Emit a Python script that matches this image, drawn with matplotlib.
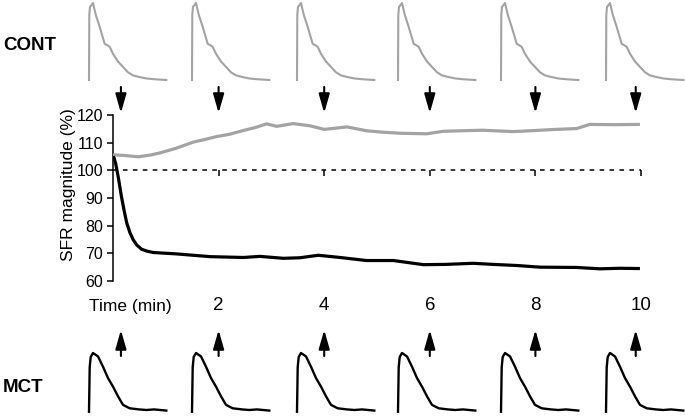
import matplotlib
matplotlib.use("Agg")
import matplotlib.pyplot as plt

plt.rcParams['font.family'] = ['Liberation Sans', 'DejaVu Sans']

# ---------------- data ----------------
cont_t = [0.0, 0.2, 0.48, 0.7, 0.89, 1.2, 1.52, 1.75, 1.96, 2.2, 2.47, 2.7, 2.91, 3.1,
          3.41, 3.73, 4.0, 4.2, 4.43, 4.8, 5.1, 5.44, 5.94, 6.25, 6.6, 7.0, 7.58, 8.0,
          8.28, 8.78, 9.03, 9.5, 9.98]
cont_v = [105.6, 105.4, 104.9, 105.5, 106.3, 108.0, 110.2, 111.2, 112.2, 113.0, 114.4,
          115.5, 116.8, 115.9, 116.9, 116.1, 114.8, 115.2, 115.7, 114.3, 113.8, 113.4,
          113.2, 114.1, 114.3, 114.5, 114.0, 114.4, 114.7, 115.1, 116.6, 116.5, 116.6]

mct_t = [0.0, 0.02, 0.05, 0.1, 0.16, 0.21, 0.26, 0.32, 0.38, 0.45, 0.54, 0.64, 0.76, 1.2,
         1.84, 2.47, 2.78, 3.23, 3.54, 3.89, 4.3, 4.8, 5.31, 5.88, 6.3, 6.82, 7.2, 7.65,
         8.09, 8.78, 9.22, 9.6, 9.98]
mct_v = [105.0, 104.5, 102.5, 97.5, 90.5, 85.5, 81.0, 77.5, 75.0, 73.0, 71.5, 70.8, 70.3,
         69.8, 68.8, 68.5, 68.9, 68.2, 68.4, 69.3, 68.5, 67.4, 67.4, 65.9, 66.0, 66.4,
         66.0, 65.6, 65.0, 64.9, 64.4, 64.6, 64.5]

baseline = 100
x_ticks = [2, 4, 6, 8, 10]
x_tick_labels = ['2', '4', '6', '8', '10']
y_ticks = [60, 70, 80, 90, 100, 110, 120]
arrow_t = [0.15, 2, 4, 6, 8, 9.9]

# inset transient shapes (time offset in px, normalized amplitude)
cont_trace_x = [0, 0.3, 1.0, 2.3, 4, 6.7, 10.7, 15.7, 18.5, 20.7, 24, 29, 34, 39, 44,
                50, 57.3, 65, 77.3]
cont_trace_y = [0, 0.85, 0.95, 0.97, 1.0, 0.85, 0.69, 0.47, 0.45, 0.43, 0.34, 0.24,
                0.17, 0.10, 0.06, 0.04, 0.02, 0.01, 0.0]
mct_trace_x = [0, 0.7, 1.7, 4, 9, 14, 19, 24, 29, 34, 40.7, 50, 57.3, 65, 77.3]
mct_trace_y = [-0.03, 0.75, 0.93, 1.0, 0.94, 0.76, 0.56, 0.41, 0.24, 0.09, 0.03, 0.01,
               0.0, 0.01, -0.01]

GRAY = '#a3a3a3'
W, H = 685, 417

fig = plt.figure(figsize=(W / 100, H / 100), dpi=100)

# main axes in pixel layout
ax_l, ax_r, ax_t, ax_b = 113, 641, 115, 281
ax = fig.add_axes([ax_l / W, 1 - ax_b / H, (ax_r - ax_l) / W, (ax_b - ax_t) / H])
ax.set_xlim(0, 10)
ax.set_ylim(60, 120)
for s in ['top', 'right', 'bottom']:
    ax.spines[s].set_visible(False)
ax.spines['left'].set_linewidth(1.1)
ax.set_yticks(y_ticks)
ax.tick_params(axis='y', direction='out', length=4, width=1.1, labelsize=11.5, pad=3)
ax.set_xticks([])

ax.plot(cont_t, cont_v, color=GRAY, lw=2.3, solid_capstyle='butt', zorder=3)
ax.plot(mct_t, mct_v, color='black', lw=2.3, solid_capstyle='butt', zorder=4)
ax.plot([0, 10], [baseline, baseline], color='black', lw=1.1,
        linestyle=(0, (3, 3.5)), zorder=2)
ax.plot(x_ticks, [baseline] * len(x_ticks), linestyle='none', marker=3,
        markersize=4, markeredgewidth=1.1, color='black', zorder=2)

ax.set_ylabel('SFR magnitude (%)', fontsize=12.5)
ax.yaxis.set_label_coords(-0.071, 0.58)

trans = ax.get_xaxis_transform()
lab_y = (ax_b - 306) / (ax_b - ax_t)
ax.text(0.32, lab_y, 'Time (min)', transform=trans, ha='center', va='center', fontsize=12.5)
for xv, lab in zip(x_ticks, x_tick_labels):
    ax.text(xv, lab_y, lab, transform=trans, ha='center', va='center', fontsize=13.5)

# arrows
def yfrac(py):
    return (ax_b - py) / (ax_b - ax_t)

for xv in arrow_t:
    ax.annotate('', xy=(xv, yfrac(113)), xytext=(xv, yfrac(87)), xycoords=trans,
                textcoords=trans,
                arrowprops=dict(arrowstyle='-|>,head_length=1.15,head_width=0.33',
                                mutation_scale=10, lw=1.5, color='black',
                                shrinkA=0, shrinkB=0), annotation_clip=False)
    ax.annotate('', xy=(xv, yfrac(330)), xytext=(xv, yfrac(356)), xycoords=trans,
                textcoords=trans,
                arrowprops=dict(arrowstyle='-|>,head_length=1.15,head_width=0.33',
                                mutation_scale=10, lw=1.5, color='black',
                                shrinkA=0, shrinkB=0), annotation_clip=False)

# inset traces
inset_left = [89, 192, 297, 398, 501, 606]
trace_w = 77.3
for lx in inset_left:
    a = fig.add_axes([lx / W, 1 - 80 / H, trace_w / W, (80 - 3) / H])
    a.plot(cont_trace_x, cont_trace_y, color=GRAY, lw=1.5, clip_on=False)
    a.set_xlim(0, trace_w)
    a.set_ylim(0, 1)
    a.axis('off')
    b = fig.add_axes([lx / W, 1 - 410 / H, trace_w / W, (410 - 353) / H])
    b.plot(mct_trace_x, mct_trace_y, color='black', lw=1.7, clip_on=False)
    b.set_xlim(0, trace_w)
    b.set_ylim(0, 1)
    b.axis('off')

fig.text(3 / W, 1 - 45 / H, 'CONT', ha='left', va='center', fontsize=13.5, fontweight='bold')
fig.text(3 / W, 1 - 388 / H, 'MCT', ha='left', va='center', fontsize=13.5, fontweight='bold')

fig.savefig('out.png', dpi=100)
